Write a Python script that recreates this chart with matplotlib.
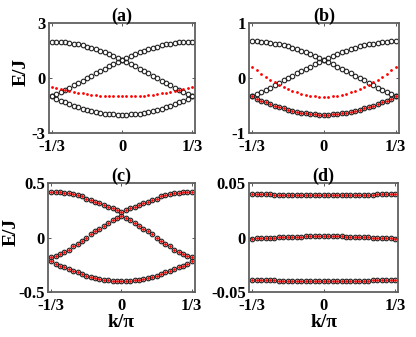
import matplotlib
matplotlib.use('Agg')
import matplotlib.pyplot as plt
import numpy as np

plt.rcParams['font.family'] = ['Liberation Serif', 'DejaVu Serif']
plt.rcParams['font.weight'] = 'bold'

# k/pi sample grid (33 points across the reduced zone)
k = np.linspace(-1/3, 1/3, 33)

# (a) black circles: three bands, red dots: one band
a_low = [-1.00, -1.11, -1.22, -1.32, -1.41, -1.50, -1.59, -1.66, -1.73, -1.79, -1.85,
         -1.89, -1.93, -1.96, -1.98, -2.00, -2.00, -2.00, -1.98, -1.96, -1.93, -1.89,
         -1.85, -1.79, -1.73, -1.66, -1.59, -1.50, -1.41, -1.32, -1.22, -1.11, -1.00]
a_up = [-1.00, -0.88, -0.77, -0.64, -0.52, -0.39, -0.26, -0.13, 0.00, 0.13, 0.26,
        0.39, 0.52, 0.64, 0.77, 0.88, 1.00, 1.11, 1.22, 1.32, 1.41, 1.50,
        1.59, 1.66, 1.73, 1.79, 1.85, 1.89, 1.93, 1.96, 1.98, 2.00, 2.00]
a_down = [2.00, 2.00, 1.98, 1.96, 1.93, 1.89, 1.85, 1.79, 1.73, 1.66, 1.59,
          1.50, 1.41, 1.32, 1.22, 1.11, 1.00, 0.88, 0.77, 0.64, 0.52, 0.39,
          0.26, 0.13, 0.00, -0.13, -0.26, -0.39, -0.52, -0.64, -0.77, -0.88, -1.00]
a_red = [-0.50, -0.56, -0.61, -0.66, -0.71, -0.75, -0.79, -0.83, -0.87, -0.90, -0.92,
         -0.95, -0.97, -0.98, -0.99, -1.00, -1.00, -1.00, -0.99, -0.98, -0.97, -0.95,
         -0.92, -0.90, -0.87, -0.83, -0.79, -0.75, -0.71, -0.66, -0.61, -0.56, -0.50]

# (b)
b_low = [-0.33, -0.37, -0.41, -0.44, -0.47, -0.50, -0.53, -0.55, -0.58, -0.60, -0.62,
         -0.63, -0.64, -0.65, -0.66, -0.67, -0.67, -0.67, -0.66, -0.65, -0.64, -0.63,
         -0.62, -0.60, -0.58, -0.55, -0.53, -0.50, -0.47, -0.44, -0.41, -0.37, -0.33]
b_up = [-0.33, -0.29, -0.26, -0.21, -0.17, -0.13, -0.09, -0.04, 0.00, 0.04, 0.09,
        0.13, 0.17, 0.21, 0.26, 0.29, 0.33, 0.37, 0.41, 0.44, 0.47, 0.50,
        0.53, 0.55, 0.58, 0.60, 0.62, 0.63, 0.64, 0.65, 0.66, 0.67, 0.67]
b_down = [0.67, 0.67, 0.66, 0.65, 0.64, 0.63, 0.62, 0.60, 0.58, 0.55, 0.53,
          0.50, 0.47, 0.44, 0.41, 0.37, 0.33, 0.29, 0.26, 0.21, 0.17, 0.13,
          0.09, 0.04, 0.00, -0.04, -0.09, -0.13, -0.17, -0.21, -0.26, -0.29, -0.33]
b_red = [0.20, 0.14, 0.08, 0.02, -0.03, -0.07, -0.12, -0.16, -0.20, -0.23, -0.26,
         -0.28, -0.30, -0.32, -0.33, -0.34, -0.34, -0.34, -0.33, -0.32, -0.30, -0.28,
         -0.26, -0.23, -0.20, -0.16, -0.12, -0.07, -0.03, 0.02, 0.08, 0.14, 0.20]

# (c) black and red coincide
c_top = [0.42, 0.42, 0.42, 0.41, 0.41, 0.40, 0.39, 0.38, 0.36, 0.35, 0.33,
         0.32, 0.30, 0.28, 0.27, 0.25, 0.24, 0.25, 0.27, 0.28, 0.30, 0.32,
         0.33, 0.35, 0.36, 0.38, 0.39, 0.40, 0.41, 0.41, 0.42, 0.42, 0.42]
c_mid = [-0.18, -0.17, -0.15, -0.13, -0.11, -0.08, -0.06, -0.03, 0.00, 0.03, 0.06,
         0.08, 0.11, 0.13, 0.16, 0.18, 0.20, 0.18, 0.16, 0.13, 0.11, 0.08,
         0.06, 0.03, 0.00, -0.03, -0.06, -0.08, -0.11, -0.13, -0.15, -0.17, -0.18]
c_low = [-0.22, -0.24, -0.26, -0.275, -0.29, -0.305, -0.32, -0.335, -0.35, -0.36, -0.37,
         -0.38, -0.39, -0.395, -0.40, -0.40, -0.40, -0.40, -0.40, -0.395, -0.39, -0.38,
         -0.37, -0.36, -0.35, -0.335, -0.32, -0.305, -0.29, -0.275, -0.26, -0.24, -0.22]

# (d) nearly flat bands
d_top = [0.0405, 0.0404, 0.0402, 0.0400, 0.0399, 0.0397, 0.0396, 0.0395, 0.0394, 0.0393, 0.0392,
         0.0391, 0.0391, 0.0390, 0.0390, 0.0390, 0.0390, 0.0390, 0.0390, 0.0390, 0.0391, 0.0391,
         0.0392, 0.0393, 0.0394, 0.0395, 0.0396, 0.0397, 0.0399, 0.0400, 0.0402, 0.0404, 0.0405]
d_mid = [-0.0010, -0.0008, -0.0006, -0.0004, -0.0002, 0.0000, 0.0002, 0.0004, 0.0005, 0.0007, 0.0008,
         0.0009, 0.0010, 0.0010, 0.0011, 0.0011, 0.0011, 0.0011, 0.0011, 0.0010, 0.0010, 0.0009,
         0.0008, 0.0007, 0.0005, 0.0004, 0.0002, 0.0000, -0.0002, -0.0004, -0.0006, -0.0008, -0.0010]
d_low = [-0.0390, -0.0391, -0.0392, -0.0393, -0.0394, -0.0395, -0.0396, -0.0397, -0.0398, -0.0399, -0.0400,
         -0.0401, -0.0401, -0.0402, -0.0402, -0.0402, -0.0402, -0.0402, -0.0402, -0.0402, -0.0401, -0.0401,
         -0.0400, -0.0399, -0.0398, -0.0397, -0.0396, -0.0395, -0.0394, -0.0393, -0.0392, -0.0391, -0.0390]

xticks = [-1/3, 0, 1/3]
xticklabels = ['-1/3', '0', '1/3']

panels = [
    # title, rect, black bands, red bands, yticks, yticklabels
    ('(a)', [0.118, 0.605, 0.351, 0.326], [a_low, a_up, a_down], [a_red],
     [-3, 0, 3], ['-3', '0', '3']),
    ('(b)', [0.599, 0.605, 0.359, 0.326], [b_low, b_up, b_down], [b_low, b_red],
     [-1, 0, 1], ['-1', '0', '1']),
    ('(c)', [0.116, 0.134, 0.352, 0.322], [c_top, c_mid, c_low], [c_top, c_mid, c_low],
     [-0.5, 0, 0.5], ['-0.5', '0', '0.5']),
    ('(d)', [0.599, 0.134, 0.358, 0.322], [d_top, d_mid, d_low], [d_top, d_mid, d_low],
     [-0.05, 0, 0.05], ['-0.05', '0', '0.05']),
]

fig = plt.figure(figsize=(4.16, 3.37), dpi=100)

for i, (title, rect, black, red, yt, ytl) in enumerate(panels):
    ax = fig.add_axes(rect)
    for y in black:
        ax.plot(k, y, 'o', mfc='none', mec='#222222', ms=3.3, mew=0.8)
    for y in red:
        ax.plot(k, y, 'o', color='red', ms=2.0, mew=0)
    ax.set_xlim(-0.347, 0.347)
    ax.set_ylim(yt[0], yt[-1])
    ax.set_xticks(xticks)
    ax.set_xticklabels(xticklabels)
    ax.set_yticks(yt)
    ax.set_yticklabels(ytl)
    ax.tick_params(direction='in', length=2.5, width=0.7, top=True, right=True,
                   labelsize=12, color='#555555')
    ax.tick_params(axis='x', pad=4.5)
    ax.tick_params(axis='y', pad=2.5)
    for s in ax.spines.values():
        s.set_color('#606060')
        s.set_linewidth(1.3)
    ax.set_title(title, fontsize=13, fontweight='bold', pad=2)
    if i in (0, 2):
        ax.set_ylabel('E/J', fontsize=14, fontweight='bold')
    if i in (2, 3):
        ax.set_xlabel('k/π', fontsize=14, fontweight='bold', labelpad=0)

fig.axes[0].yaxis.set_label_coords(-0.135, 0.56)
fig.axes[2].yaxis.set_label_coords(-0.195, 0.55)

plt.savefig('out.png', dpi=100)
